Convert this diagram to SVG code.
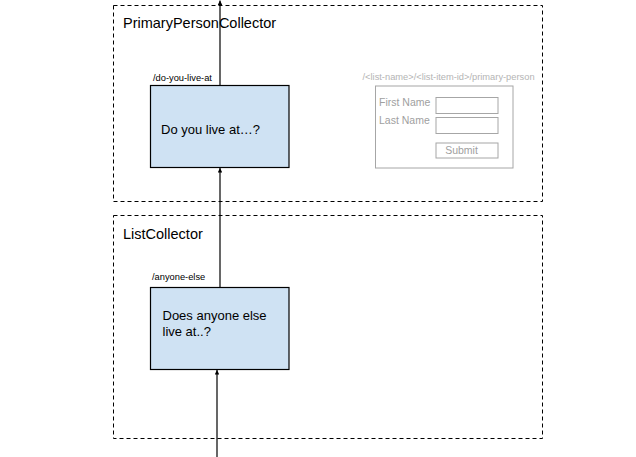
<svg xmlns="http://www.w3.org/2000/svg" width="636" height="457" viewBox="0 0 636 457">
<style>
.group{fill:none;stroke:#000;stroke-width:1;stroke-dasharray:4,3}
.node{fill:#cfe2f3;stroke:#000;stroke-width:1.2}
.t{font-family:"Liberation Sans",Arial,sans-serif;fill:#000}
.big{font-size:14.5px}
.q{font-size:13px}
.path{font-size:9.3px}
.form{fill:none;stroke:#a6a6a6;stroke-width:1}
.ft{font-family:"Liberation Sans",Arial,sans-serif;fill:#a0a0a0}
.conn{stroke:#000;stroke-width:1.2;fill:none}
</style>
<defs>
<marker id="ah" viewBox="0 0 10 10" refX="10" refY="5" markerWidth="4.5" markerHeight="4.5" orient="auto" markerUnits="userSpaceOnUse">
<path d="M0,0 L10,5 L0,10 z" fill="#000"/>
</marker>
</defs>
<rect width="636" height="457" fill="#fff"/>
<g id="primary-person-collector">
<rect class="group" x="113.5" y="5.5" width="429" height="196"/>
<text class="t big" x="123" y="27.5">PrimaryPersonCollector</text>
</g>
<g id="list-collector">
<rect class="group" x="113.5" y="215.5" width="429" height="223"/>
<text class="t big" x="123" y="238.5">ListCollector</text>
</g>
<g id="do-you-live-at">
<text class="t path" x="153" y="81">/do-you-live-at</text>
<rect class="node" x="150.5" y="85.5" width="138.5" height="82"/>
<text class="t q" x="161" y="134">Do you live at…?</text>
</g>
<g id="anyone-else">
<text class="t path" x="152" y="280">/anyone-else</text>
<rect class="node" x="150.5" y="287.5" width="138.5" height="82"/>
<text class="t q" x="162.5" y="320">Does anyone else</text>
<text class="t q" x="162.5" y="336">live at..?</text>
</g>
<g id="primary-person-form">
<text class="ft" style="font-size:9.3px;fill:#b4b4b4" x="362.5" y="80">/&lt;list-name&gt;/&lt;list-item-id&gt;/primary-person</text>
<rect class="form" x="375.5" y="86" width="137.5" height="82"/>
<text class="ft" style="font-size:10.5px" x="379" y="106">First Name</text>
<text class="ft" style="font-size:10.5px" x="379" y="123.5">Last Name</text>
<rect class="form" x="436" y="97.5" width="62" height="16"/>
<rect class="form" x="436" y="117.5" width="62" height="16"/>
<rect class="form" x="436" y="143" width="62" height="15"/>
<text class="ft" style="font-size:10.5px" x="461.5" y="154" text-anchor="middle">Submit</text>
</g>
<g id="connectors">
<line class="conn" x1="220" y1="85" x2="220" y2="0.5" marker-end="url(#ah)"/>
<line class="conn" x1="220" y1="287" x2="220" y2="168" marker-end="url(#ah)"/>
<line class="conn" x1="217" y1="457" x2="217" y2="370" marker-end="url(#ah)"/>
</g>
</svg>
